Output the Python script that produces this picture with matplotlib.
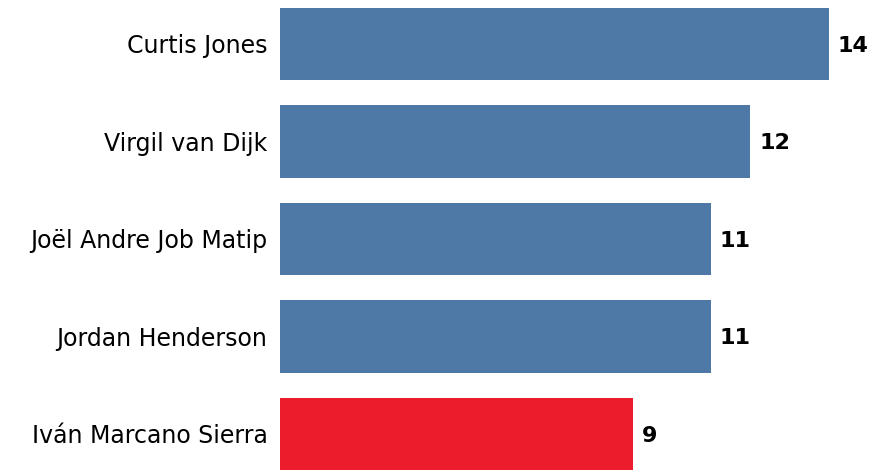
import matplotlib
matplotlib.use('Agg')
import matplotlib.pyplot as plt

players = ["Curtis Jones", "Virgil van Dijk", "Joël Andre Job Matip",
           "Jordan Henderson", "Iván Marcano Sierra"]
values = [14, 12, 11, 11, 9]
colors = ["#4e79a7", "#4e79a7", "#4e79a7", "#4e79a7", "#ec1c2c"]

fig = plt.figure(figsize=(8.73, 4.70), dpi=100)
ax = fig.add_axes([280 / 873, 0, 593 / 873, 1])

ypos = list(range(len(players)))[::-1]
ax.barh(ypos, values, height=0.74, color=colors)

for y, v in zip(ypos, values):
    ax.text(v + 0.22, y - 0.02, str(v), va='center', ha='left', fontsize=16, fontweight='bold')

ax.set_yticks(ypos)
ax.set_yticklabels(players, fontsize=17)
ax.tick_params(axis='y', length=0, pad=9)
ax.set_xticks([])
ax.set_xlim(0, 593 / 39.2)
ax.set_ylim(-0.37, -0.37 + 470 / 97.5)
for s in ax.spines.values():
    s.set_visible(False)

plt.savefig('out.png', dpi=100)
